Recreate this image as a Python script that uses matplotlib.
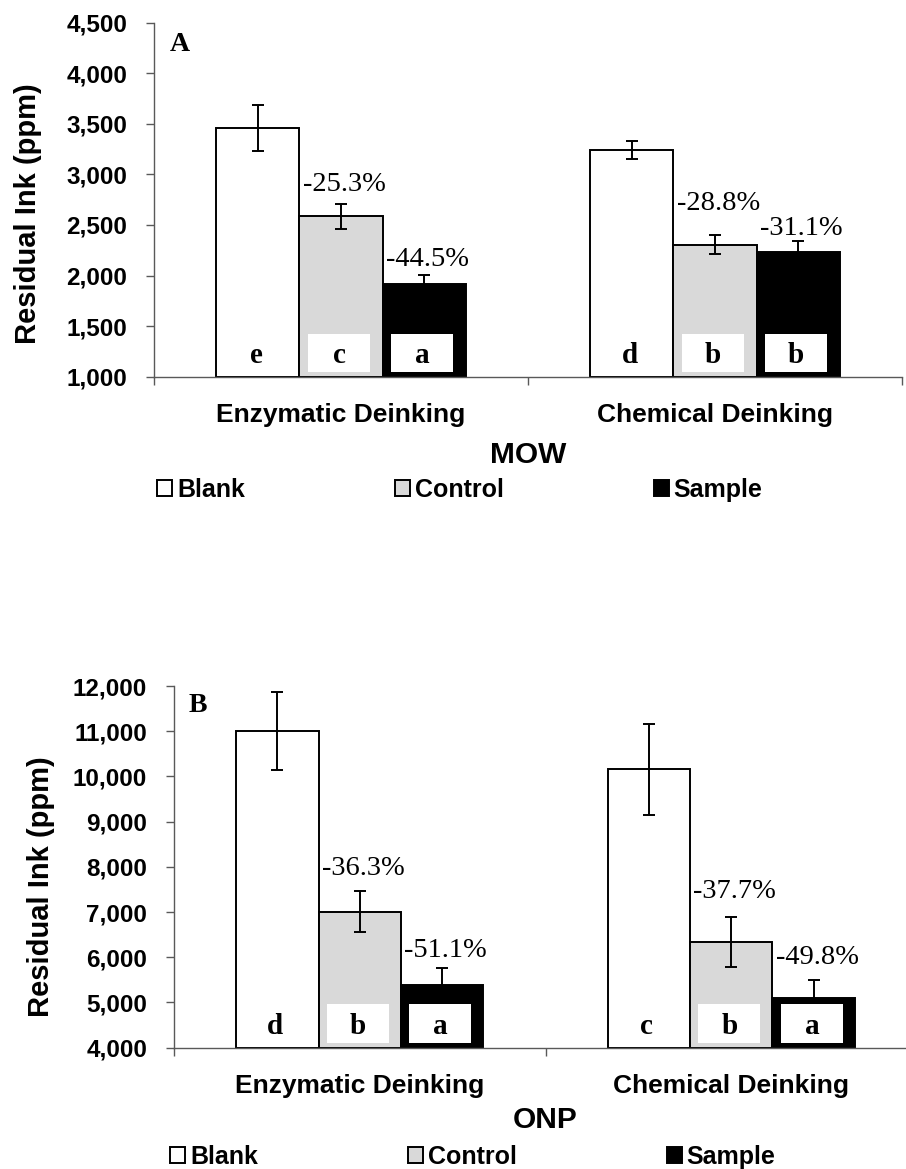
import matplotlib
matplotlib.use("Agg")
import matplotlib.pyplot as plt
from matplotlib.patches import Patch, Rectangle
from matplotlib.ticker import FixedLocator, StrMethodFormatter
import numpy as np

groups = ["Enzymatic Deinking", "Chemical Deinking"]
treatments = ["Blank", "Control", "Sample"]
colors = ["white", "#d9d9d9", "black"]

# MOW residual ink (ppm), rows = groups, cols = Blank/Control/Sample
mow_mean = [[3460, 2585, 1920], [3240, 2307, 2232]]
mow_err = [[225, 123, 90], [90, 90, 105]]
mow_letters = [["e", "c", "a"], ["d", "b", "b"]]

# ONP residual ink (ppm)
onp_mean = [[11000, 7007, 5379], [10160, 6330, 5100]]
onp_err = [[860, 450, 390], [1010, 550, 390]]
onp_letters = [["d", "b", "a"], ["c", "b", "a"]]

SANS = "Liberation Sans"
SERIF = "Liberation Serif"
BAR_W = 0.222


def draw_panel(ax, means, errs, letters, ylim, ystep, panel, xlabel,
               pct_offsets, ylabel_xy, xlabel_y, panel_xy):
    means = np.array(means, dtype=float)
    errs = np.array(errs, dtype=float)
    ymin, ymax = ylim
    xpos = np.arange(len(groups))
    k = 0
    for j, name in enumerate(treatments):
        xs = xpos + (j - 1) * BAR_W
        ax.bar(xs, means[:, j] - ymin, bottom=ymin, width=BAR_W,
               color=colors[j], edgecolor="black", linewidth=1.4,
               zorder=2, clip_on=False)
        ax.errorbar(xs, means[:, j], yerr=errs[:, j], fmt="none",
                    ecolor="black", elinewidth=1.4, capsize=4.3,
                    capthick=1.4, zorder=3)
        for g, x in enumerate(xs):
            # white letter box sitting at the foot of each bar
            bw = BAR_W * 0.75
            ax.add_patch(Rectangle((x - bw / 2 - 0.005, 0.014), bw, 0.106,
                                   transform=ax.get_xaxis_transform(),
                                   facecolor="white", edgecolor="none",
                                   zorder=4))
            ax.text(x - 0.005, 0.039, letters[g][j],
                    transform=ax.get_xaxis_transform(), ha="center",
                    va="baseline", fontsize=21, fontweight="bold",
                    family=SERIF, zorder=5)
    # percentage change relative to the blank of each group
    for g in range(len(groups)):
        for j in (1, 2):
            pct = (means[g, j] - means[g, 0]) / means[g, 0] * 100
            x = xpos[g] + (j - 1) * BAR_W
            ax.annotate(f"{pct:.1f}%", (x, means[g, j] + errs[g, j]),
                        xytext=(2.5, pct_offsets[k]),
                        textcoords="offset points", ha="center",
                        va="baseline", fontsize=20.5, family=SERIF,
                        zorder=5)
            k += 1

    ax.set_xlim(-0.5, 1.5)
    ax.set_ylim(ymin, ymax)
    ax.set_yticks(np.arange(ymin, ymax + 1, ystep))
    ax.yaxis.set_major_formatter(StrMethodFormatter("{x:,.0f}"))
    ax.set_xticks(xpos)
    ax.set_xticklabels(groups)
    ax.xaxis.set_minor_locator(FixedLocator([-0.5, 0.5, 1.5]))
    ax.tick_params(axis="x", which="major", length=0, pad=19)
    ax.tick_params(axis="x", which="minor", length=5.5, width=1.0,
                   color="#595959")
    ax.tick_params(axis="y", length=5.8, width=1.0, color="#595959",
                   pad=13.5)
    for lab in ax.get_xticklabels() + ax.get_yticklabels():
        lab.set_family(SANS)
        lab.set_fontweight("bold")
    for lab in ax.get_xticklabels():
        lab.set_fontsize(19)
    for lab in ax.get_yticklabels():
        lab.set_fontsize(17.5)
    for side in ("top", "right"):
        ax.spines[side].set_visible(False)
    for side in ("left", "bottom"):
        ax.spines[side].set_color("#595959")
        ax.spines[side].set_linewidth(1.0)

    ax.set_ylabel("Residual Ink (ppm)", family=SANS, fontweight="bold",
                  fontsize=21, va="center")
    ax.yaxis.set_label_coords(*ylabel_xy)
    ax.set_xlabel(xlabel, family=SANS, fontweight="bold", fontsize=21.5,
                  va="center")
    ax.xaxis.set_label_coords(0.5, xlabel_y)
    ax.text(panel_xy[0], panel_xy[1], panel, transform=ax.transAxes,
            ha="left", va="top", fontsize=20, fontweight="bold",
            family=SERIF)


fig = plt.figure(figsize=(9.06, 11.69), dpi=100)
W, H = 906, 1169

ax_a = fig.add_axes([154 / W, 1 - 376.7 / H, 748 / W, 354 / H])
draw_panel(ax_a, mow_mean, mow_err, mow_letters, (1000, 4500), 500, "A",
           "MOW", [9, 6, 18, 4.5], (-0.168, 0.46), -0.221, (0.021, 0.975))

ax_b = fig.add_axes([174 / W, 1 - 1047.7 / H, 743 / W, 361.7 / H])
draw_panel(ax_b, onp_mean, onp_err, onp_letters, (4000, 12000), 1000, "B",
           "ONP", [12, 8, 14, 12], (-0.179, 0.446), -0.2, (0.019, 0.98))

handles = [Patch(facecolor=c, edgecolor="black", linewidth=1.4)
           for c in colors]
for anchor in ((157 / W, 1 - 490 / H), (170 / W, 1 - 1157 / H)):
    fig.legend(handles, treatments, loc="center left", bbox_to_anchor=anchor,
               ncol=3, frameon=False, borderpad=0, borderaxespad=0,
               handlelength=0.6, handleheight=0.6, handletextpad=0.2,
               columnspacing=6.0,
               prop={"family": SANS, "weight": "bold", "size": 18})

fig.savefig("out.png", dpi=100)
